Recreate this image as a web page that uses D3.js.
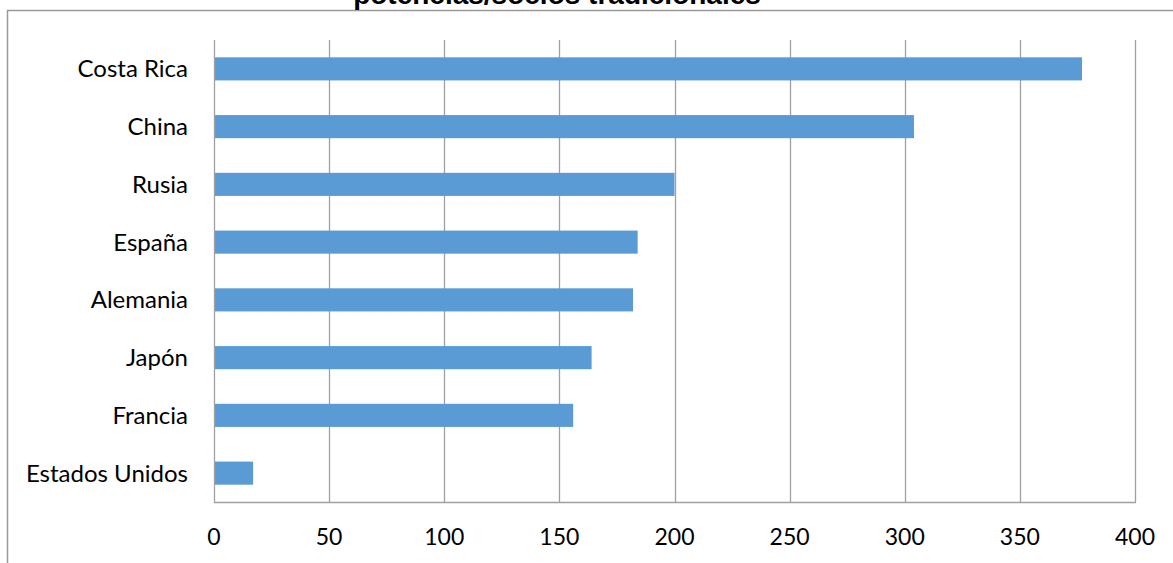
<!DOCTYPE html>
<html>
<head>
<meta charset="utf-8">
<script src="https://cdn.jsdelivr.net/npm/d3@7"></script>
<style>
  html, body { margin: 0; padding: 0; background: #fff; }
  svg { display: block; }
</style>
</head>
<body>
<div id="chart"></div>
<script>
// datos del grafico
var paises = ["Costa Rica", "China", "Rusia", "España", "Alemania", "Japón", "Francia", "Estados Unidos"];
var valores = [377, 304, 200, 184, 182, 164, 156, 17];
var ticks = [0, 50, 100, 150, 200, 250, 300, 350, 400];
var titulo = "potencias/socios tradicionales";

(function(d3){

    var W = 1173, H = 563;
    var plot = {left: 214, right: 1135, top: 40, bottom: 502};

    var svg = d3.select("#chart").append("svg")
            .attr("width", W)
            .attr("height", H);

    // marco exterior (se sale por derecha y abajo)
    svg.append("rect")
            .attr("x", 7.5).attr("y", 10.5)
            .attr("width", W + 20).attr("height", H + 20)
            .attr("fill", "none")
            .attr("stroke", "#9a9a9a")
            .attr("stroke-width", 1.5);

    // titulo cortado arriba, como en el original
    svg.append("text")
            .attr("x", 557).attr("y", 4)
            .attr("text-anchor", "middle")
            .style("font-family", "'Liberation Sans', Arial, sans-serif")
            .style("font-weight", "bold")
            .style("font-size", "28px")
            .text(titulo);

    var x = d3.scaleLinear().domain([0, 400]).range([plot.left, plot.right]);
    var y = d3.scaleBand().domain(paises).range([plot.top, plot.bottom]).paddingInner(0.6).paddingOuter(0.3);

    // lineas de cuadricula
    svg.append("g").selectAll("line")
            .data(ticks.slice(1))
            .enter().append("line")
            .attr("x1", function(d){ return Math.round(x(d)) + 0.5; })
            .attr("x2", function(d){ return Math.round(x(d)) + 0.5; })
            .attr("y1", plot.top).attr("y2", plot.bottom)
            .attr("stroke", "#a0a0a0")
            .attr("stroke-width", 1.3);

    // barras
    svg.append("g").selectAll("rect")
            .data(valores)
            .enter().append("rect")
            .attr("x", x(0))
            .attr("y", function(d, i){ return y(paises[i]); })
            .attr("width", function(d){ return x(d) - x(0); })
            .attr("height", y.bandwidth())
            .attr("fill", "#5b9bd5");

    // ejes
    svg.append("line")
            .attr("x1", plot.left + 0.5).attr("x2", plot.left + 0.5)
            .attr("y1", plot.top).attr("y2", plot.bottom + 0.5)
            .attr("stroke", "#a0a0a0").attr("stroke-width", 1.3);
    svg.append("line")
            .attr("x1", plot.left).attr("x2", plot.right + 1)
            .attr("y1", plot.bottom + 0.5).attr("y2", plot.bottom + 0.5)
            .attr("stroke", "#a0a0a0").attr("stroke-width", 1.3);

    var fuente = "Lato, 'Open Sans', sans-serif";

    // etiquetas de categorias
    svg.append("g").selectAll("text")
            .data(paises)
            .enter().append("text")
            .attr("x", 188)
            .attr("y", function(d){ return y(d) + y.bandwidth() / 2; })
            .attr("dy", "0.35em")
            .attr("text-anchor", "end")
            .style("font-family", fuente)
            .style("font-size", "24px")
            .style("fill", "#000")
            .text(function(d){ return d; });

    // etiquetas del eje x
    svg.append("g").selectAll("text")
            .data(ticks)
            .enter().append("text")
            .attr("x", function(d){ return x(d); })
            .attr("y", 545)
            .attr("text-anchor", "middle")
            .style("font-family", fuente)
            .style("font-size", "23px")
            .style("fill", "#000")
            .text(function(d){ return d; });

})(d3);
</script>
</body>
</html>
